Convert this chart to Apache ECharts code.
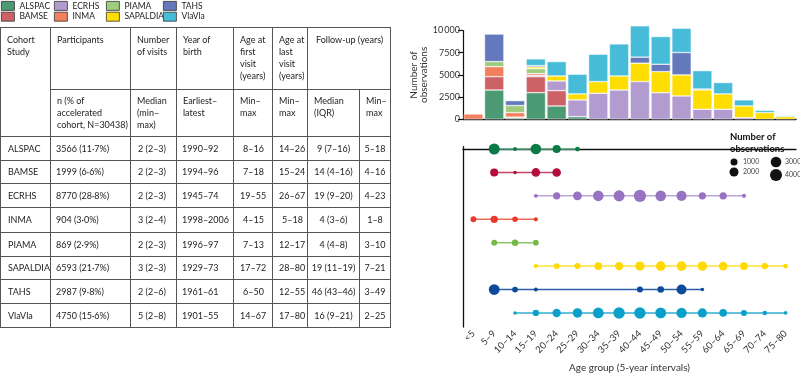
<!DOCTYPE html>
<html>
<head>
<meta charset="utf-8">
<script src="https://cdn.jsdelivr.net/npm/echarts@6/dist/echarts.min.js"></script>
<style>
html, body { margin:0; padding:0; background:#fff; }
#main { position:absolute; left:0; top:0; width:800px; height:376px; }
#tbl { position:absolute; left:0; top:27px; width:390px; border-collapse:collapse; table-layout:fixed;
       font-family:Lato, 'Noto Sans', sans-serif; font-size:9px; color:#222; border:1.5px solid #222; }
#tbl td { border:1px solid #555; padding:0 4px 0 6px; line-height:12px; white-space:nowrap; overflow:hidden; }
#tbl tr.h1 td { vertical-align:top; padding-top:6px; }
#tbl tr.h2 td { vertical-align:top; padding-top:5px; }
#tbl tr.b td { vertical-align:middle; }
</style>
</head>
<body>
<div id="main"></div>
<table id="tbl"></table>
<script>
// 年龄组（5年区间）
var ageGroups = ['<5','5–9','10–14','15–19','20–24','25–29','30–34','35–39','40–44','45–49','50–54','55–59','60–64','65–69','70–74','75–80'];
var cohorts = ['ALSPAC','BAMSE','ECRHS','INMA','PIAMA','SAPALDIA','TAHS','VlaVla'];

// 每个队列各年龄组的观测数
//                 <5   5-9  10-14 15-19 20-24 25-29 30-34 35-39 40-44 45-49 50-54 55-59 60-64 65-69 70-74 75-80
var obsALSPAC   = [null,3300, 150, 3000, 1500, 300, null, null, null, null, null, null, null, null, null, null];
var obsBAMSE    = [null,1500, 100, 1800, 1730, null,null, null, null, null, null, null, null, null, null, null];
var obsECRHS    = [null,null, null, 150, 1090, 1880,2930, 3300, 4250, 3000, 2630, 1130, 1130, 190,  null, null];
var obsINMA     = [600, 1130, 500,  200, null, null,null, null, null, null, null, null, null, null, null, null];
var obsPIAMA    = [null,570,  800,  550, null, null,null, null, null, null, null, null, null, null, null, null];
var obsSAPALDIA = [null,null, null, 200, 560,  680, 1315, 1580, 2070, 2370, 2370, 2180, 1730, 1315, 750,  300];
var obsTAHS     = [null,3100, 550,  150, null, null,null, null, 680,  830,  2520, 100,  null, null, null, null];
var obsVlaVla   = [null,null, 80,   750, 1620, 2220,3080, 3610, 3530, 3120, 2740, 2070, 1280, 680,  260,  110];

var yTicks = [0, 2500, 5000, 7500, 10000];
var sizeLegendValues = [1000, 2000, 3000, 4000];

// 表格
var headTop = ['Participants','Number<br>of visits','Year of<br>birth','Age at<br>first<br>visit<br>(years)','Age at<br>last<br>visit<br>(years)'];
var headSub = ['n (% of<br>accelerated<br>cohort, N=30438)','Median<br>(min–<br>max)','Earliest–<br>latest','Min–<br>max','Min–<br>max','Median<br>(IQR)','Min–<br>max'];
var tableRows = [
  ['ALSPAC','3566 (11·7%)','2 (2–3)','1990–92','8–16','14–26','9 (7–16)','5–18'],
  ['BAMSE','1999 (6·6%)','2 (2–3)','1994–96','7–18','15–24','14 (4–16)','4–16'],
  ['ECRHS','8770 (28·8%)','2 (2–3)','1945–74','19–55','26–67','19 (9–20)','4–23'],
  ['INMA','904 (3·0%)','3 (2–4)','1998–2006','4–15','5–18','4 (3–6)','1–8'],
  ['PIAMA','869 (2·9%)','2 (2–3)','1996–97','7–13','12–17','4 (4–8)','3–10'],
  ['SAPALDIA','6593 (21·7%)','3 (2–3)','1929–73','17–72','28–80','19 (11–19)','7–21'],
  ['TAHS','2987 (9·8%)','2 (2–6)','1961–61','6–50','12–55','46 (43–46)','3–49'],
  ['VlaVla','4750 (15·6%)','5 (2–8)','1901–55','14–67','17–80','16 (9–21)','2–25']
];
var colWidths = [50, 80, 46, 57, 39, 35, 52, 31];
var rowHeights = [24, 23, 24, 25, 24, 23, 24, 24];

var barColors  = ['#4b9a73','#cd6266','#b29ccf','#f2805e','#9dcc7c','#fedd00','#6479bb','#47bcd9'];
var dotColors  = ['#0a7a46','#b30d3c','#9873c1','#ea3a2a','#76b845','#ffd900','#0c4a9a','#0ba0c9'];
var lineColors = ['#5aa67f','#c0466a','#b9a5d6','#ef6a57','#8fc66a','#ffe03a','#2f5ea8','#33afd2'];

var allObs = [obsALSPAC, obsBAMSE, obsECRHS, obsINMA, obsPIAMA, obsSAPALDIA, obsTAHS, obsVlaVla];

function buildTable(){
  var h = '<colgroup>';
  colWidths.forEach(function(w){ h += '<col style="width:' + w + 'px">'; });
  h += '</colgroup>';
  h += '<tr class="h1" style="height:62px"><td rowspan="2">Cohort<br>Study</td>';
  headTop.forEach(function(t){ h += '<td>' + t + '</td>'; });
  h += '<td colspan="2" style="padding-left:8px">Follow-up (years)</td></tr>';
  h += '<tr class="h2" style="height:47px">';
  headSub.forEach(function(t){ h += '<td>' + t + '</td>'; });
  h += '</tr>';
  var pads = ['padding-left:7px','padding-left:5px','padding-left:7px','padding-left:5px',
              'text-align:right;padding-right:8px','text-align:right;padding-right:4px',
              'text-align:center;padding:0 2px','text-align:center;padding:0 2px'];
  tableRows.forEach(function(r, i){
    h += '<tr class="b" style="height:' + rowHeights[i] + 'px">';
    r.forEach(function(c, j){ h += '<td style="' + pads[j] + '">' + c + '</td>'; });
    h += '</tr>';
  });
  document.getElementById('tbl').innerHTML = h;
}
buildTable();

function dotSize(v){
  return 2 + 5 * Math.sqrt(v / 1000);
}

var myChart = echarts.init(document.getElementById('main'));

var barSeries = cohorts.map(function(name, i){
  return {
    name: name,
    type: 'bar',
    stack: 'obs',
    xAxisIndex: 0,
    yAxisIndex: 0,
    barCategoryGap: '7%',
    clip: false,
    itemStyle: { color: barColors[i], borderColor: '#fff', borderWidth: 0.5 },
    emphasis: { disabled: true },
    data: allObs[i].map(function(v){ return v === null ? '-' : v; })
  };
});

var dotSeries = cohorts.map(function(name, i){
  var pts = [];
  allObs[i].forEach(function(v, j){
    if (v !== null) pts.push([j, i, v]);
  });
  return {
    name: name + ' dots',
    type: 'line',
    xAxisIndex: 1,
    yAxisIndex: 1,
    data: pts,
    symbol: 'circle',
    showAllSymbol: true,
    symbolSize: function(d){ return dotSize(d[2]); },
    lineStyle: { color: lineColors[i], width: 1.5 },
    itemStyle: { color: dotColors[i] },
    emphasis: { disabled: true }
  };
});

// 观测数图例
var sizeLegendPos = [[734, 162], [734, 172], [776, 162], [776, 175]];
var graphics = [{
  type: 'text', left: 730, top: 131,
  style: { text: 'Number of\nobservations', font: 'bold 9.5px Lato', fill: '#111', lineHeight: 12 }
}];
sizeLegendValues.forEach(function(v, k){
  graphics.push({ type: 'circle', shape: { cx: sizeLegendPos[k][0], cy: sizeLegendPos[k][1], r: dotSize(v) / 2 }, style: { fill: '#111' } });
  graphics.push({ type: 'text', x: sizeLegendPos[k][0] + 9, y: sizeLegendPos[k][1],
    style: { text: String(v), font: '7px Lato', fill: '#444', verticalAlign: 'middle' } });
});

function legendBlock(left, names){
  return {
    left: left, top: 1, orient: 'vertical', itemGap: 1, padding: 0,
    itemWidth: 13, itemHeight: 9, icon: 'rect',
    selectedMode: false,
    itemStyle: { borderColor: '#333', borderWidth: 0.8 },
    textStyle: { fontFamily: 'Lato', fontSize: 8.5, color: '#222', padding: [0, 0, 0, 0] },
    data: names
  };
}

var option = {
  animation: false,
  textStyle: { fontFamily: 'Lato' },
  legend: [
    legendBlock(1, ['ALSPAC','BAMSE']),
    legendBlock(54, ['ECRHS','INMA']),
    legendBlock(106, ['PIAMA','SAPALDIA']),
    legendBlock(163, ['TAHS','VlaVla'])
  ],
  grid: [
    { left: 463, right: 4, top: 30.5, height: 88.8 },
    { left: 463, right: 4, top: 146.7, bottom: 49 }
  ],
  xAxis: [
    {
      type: 'category', gridIndex: 0, data: ageGroups,
      axisLine: { lineStyle: { color: '#111', width: 1.3 } },
      axisTick: { alignWithLabel: true, interval: 0, length: 5, lineStyle: { color: '#111', width: 1.2 } },
      axisLabel: { show: false }
    },
    {
      type: 'category', gridIndex: 1, data: ageGroups,
      name: 'Age group (5-year intervals)', nameLocation: 'middle', nameGap: 36,
      nameTextStyle: { fontSize: 10, color: '#333' },
      axisLine: { lineStyle: { color: '#111', width: 1.3 } },
      axisTick: { alignWithLabel: true, interval: 0, length: 5, lineStyle: { color: '#111', width: 1.2 } },
      axisLabel: { interval: 0, rotate: 45, fontSize: 9.5, color: '#333', margin: 5 }
    }
  ],
  yAxis: [
    {
      type: 'value', gridIndex: 0, min: 0, max: 10000, interval: 2500,
      name: 'Number of\nobservations', nameLocation: 'middle', nameGap: 34, nameRotate: 90,
      nameTextStyle: { fontSize: 10, color: '#333', lineHeight: 10 },
      axisLine: { show: true, lineStyle: { color: '#111', width: 1.2 } },
      axisTick: { show: true, length: 5, lineStyle: { color: '#111', width: 1.2 } },
      axisLabel: { fontSize: 9, color: '#333', margin: 3,
        formatter: function(v){ return v === 10000 ? '10\u2009000' : String(v); } },
      splitLine: { show: false }
    },
    {
      type: 'value', gridIndex: 1, inverse: true, min: -0.1, max: 7.6,
      axisLine: { show: true, lineStyle: { color: '#111', width: 1.3 } },
      axisTick: { show: false },
      axisLabel: { show: false },
      splitLine: { show: false }
    }
  ],
  graphic: graphics,
  series: barSeries.concat(dotSeries)
};

myChart.setOption(option);
</script>
</body>
</html>
